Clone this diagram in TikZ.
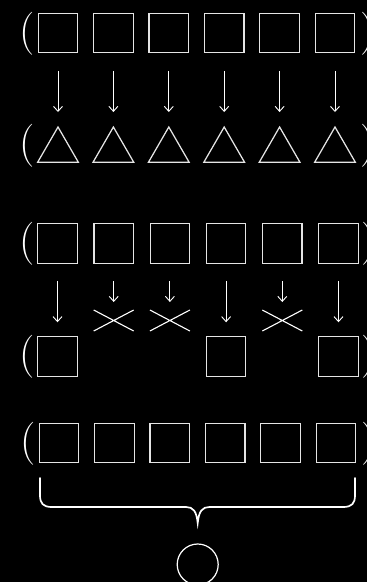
\documentclass[tikz,border=0pt]{standalone}
\usetikzlibrary{arrows.meta,shapes.geometric,shapes.misc}
\begin{document}
\begin{tikzpicture}[x=1pt,y=-1pt,
  sq/.style={draw=white!90!black, line width=1.25pt, minimum size=39.5pt, inner sep=0pt, outer sep=0pt},
  tri/.style={draw=white!90!black, line width=1.25pt, regular polygon, regular polygon sides=3, minimum size=47pt, inner sep=0pt, outer sep=0pt},
  xmark/.style={draw=white, line width=1.1pt, cross out, minimum width=40pt, minimum height=21pt, inner sep=0pt, outer sep=0pt},
  par/.style={text=white, font=\fontsize{43}{43}\selectfont, inner sep=0pt, anchor=base},
  arr/.style={draw=white, line width=0.9pt, -{Straight Barb[length=5pt,width=9pt]}}]
\fill[black] (0,0) rectangle (367,582);
\useasboundingbox (0,0) rectangle (367,582);
% row 1
\foreach \i in {0,...,5}{
  \node[sq] (a\i) at ({58+55.4*\i},33) {};
  \node[tri] (t\i) at ({58+55.4*\i},150.5) {};
  \draw[arr, shorten <=18pt, shorten >=15pt] (a\i.south) -- (t\i.north);
}
\node[par] (pa1) at (27,44) {(};
\node[par] (pa2) at (368,44) {)};
\node[par] (pt1) at (27,156) {(};
\node[par] (pt2) at (368,156) {)};
% row 2
\foreach \i in {0,...,5}{
  \node[sq] (b\i) at ({57.5+56.2*\i},243.5) {};
}
\foreach \i in {0,3,5}{
  \node[sq] (c\i) at ({57.5+56.2*\i},356.5) {};
  \draw[arr, shorten <=17.5pt, shorten >=14.5pt] (b\i.south) -- (c\i.north);
}
\foreach \i in {1,2,4}{
  \node[xmark] (x\i) at ({57.5+56.2*\i},320.5) {};
  \draw[arr, shorten <=18pt, shorten >=8pt] (b\i.south) -- (x\i.north);
}
\node[par] (pb1) at (27,254.5) {(};
\node[par] (pb2) at (369,254.5) {)};
\node[par] (pc1) at (27,367.5) {(};
\node[par] (pc2) at (369,367.5) {)};
% row 3
\foreach \i in {0,...,5}{
  \node[sq] (d\i) at ({59+55.4*\i},443) {};
}
\node[par] (pd1) at (28,454) {(};
\node[par] (pd2) at (369,454) {)};
% brace
\coordinate (bl) at (40,478);
\coordinate (br) at (355,478);
\coordinate (bt) at (197.7,523);
\draw[white, line width=1.7pt, line cap=round]
  (bl) -- (40,495) .. controls (40,503.5) and (43,507) .. (52,507)
  -- (186,507) .. controls (193,507) and (196.5,511) .. (bt)
  .. controls (198.9,511) and (202.4,507) .. (209.4,507)
  -- (343,507) .. controls (352,507) and (355,503.5) .. (355,495) -- (br);
\node[draw=white, circle, line width=1.2pt, minimum size=41pt, inner sep=0pt] (o) at (197.7,564.5) {};
\end{tikzpicture}
\end{document}
